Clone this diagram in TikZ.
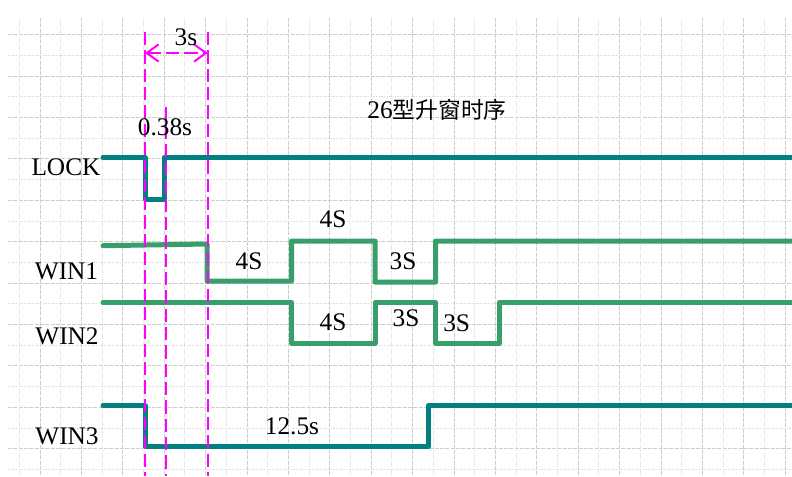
\documentclass[tikz,border=0pt]{standalone}
\usepackage{fontspec}
\setmainfont{Liberation Serif}
\newfontfamily\cjkfont[Scale=0.9]{Noto Sans CJK SC}
\usepackage{xcolor}
\usetikzlibrary{arrows.meta}
\definecolor{lockteal}{RGB}{0,128,128}
\definecolor{wingreen}{RGB}{56,158,106}
\definecolor{markmag}{RGB}{255,0,255}

\begin{document}
\begin{tikzpicture}[x=0.75pt,y=-0.75pt,
  every node/.style={font=\fontsize{19}{22}\selectfont,inner sep=0pt},
  gridmaj/.style={gray!40,line width=0.75pt,dash pattern=on 3pt off 1pt},
  gridmin/.style={gray!28,line width=0.75pt,dash pattern=on 1pt off 1pt},
  sigteal/.style={lockteal,line width=3.75pt,line join=round,line cap=round},
  siggreen/.style={wingreen,line width=3.75pt,line join=round,line cap=round},
  marker/.style={markmag,line width=1.5pt,dash pattern=on 10pt off 3.75pt},
  dim/.style={marker,{Straight Barb[length=9pt,width=13pt]}-{Straight Barb[length=9pt,width=13pt]}}
]
\useasboundingbox (0,0) rectangle (792,476);
% grid
\foreach \k in {0,...,21} {
  \pgfmathsetmacro\gy{34.7+20.7*\k}
  \ifodd\k \draw[gridmin] (8,\gy) -- (792,\gy); \else \draw[gridmaj] (8,\gy) -- (792,\gy); \fi
}
\foreach \k in {0,...,37} {
  \pgfmathsetmacro\gx{19.3+20.7*\k}
  \ifodd\k \draw[gridmaj] (\gx,18) -- (\gx,476); \else \draw[gridmin] (\gx,18) -- (\gx,476); \fi
}
% signals
\draw[sigteal] (103,157.7) -- (145,157.7) -- (145,199) -- (164,199) -- (164,157.7) -- (792,157.7);
\draw[siggreen] (103,245.7) -- (207,244) -- (207,281) -- (291.5,281) -- (291.5,241) -- (375,241)
  -- (375,282) -- (435.5,282) -- (435.5,241) -- (792,241);
\draw[siggreen] (103,302.3) -- (291.5,302.3) -- (291.5,343.3) -- (375,343.3) -- (375,302.5)
  -- (435.5,302.5) -- (435.5,343.3) -- (499.3,343.3) -- (499.3,302.5) -- (792,302.5);
\draw[sigteal] (103,405.7) -- (145,405.7) -- (145,446.7) -- (428.3,446.7) -- (428.3,405.7) -- (792,405.7);
% time markers
\coordinate (m1top) at (145,32);
\coordinate (m1bot) at (145,476);
\coordinate (m2top) at (166,107);
\coordinate (m2bot) at (166,476);
\coordinate (m3top) at (207.7,32);
\coordinate (m3bot) at (207.7,476);
\draw[marker] (m1top) -- (m1bot);
\draw[marker] (m2top) -- (m2bot);
\draw[marker] (m3top) -- (m3bot);
\coordinate (d1) at (145,53);
\coordinate (d2) at (207.7,53);
\draw[dim] (d1) -- (d2);
% labels
\node (t3s) at (186,37) {3s};
\node (t038) at (165,127) {0.38s};
\node (title) at (437,110) {26{\cjkfont 型升窗时序}};
\node (lock) at (66,167) {LOCK};
\node (win1) at (66.5,271.7) {WIN1};
\node (win2) at (67,336) {WIN2};
\node (win3) at (67,436.7) {WIN3};
\node (w1a) at (249,261.7) {4S};
\node (w1b) at (333,219) {4S};
\node (w1c) at (403,261.7) {3S};
\node (w2a) at (333,322.7) {4S};
\node (w2b) at (406,318) {3S};
\node (w2c) at (456.7,323.3) {3S};
\node (w3a) at (292,426) {12.5s};
\end{tikzpicture}
\end{document}
